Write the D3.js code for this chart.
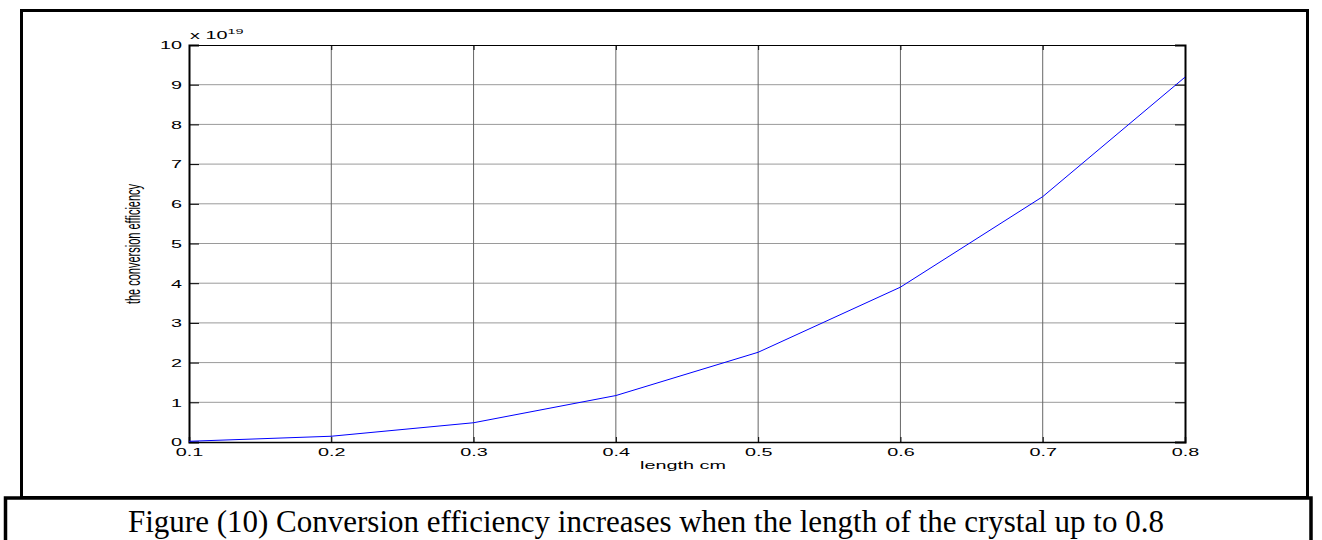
<!DOCTYPE html>
<html>
<head>
<meta charset="utf-8">
<script src="https://cdn.jsdelivr.net/npm/d3@7"></script>
<style>
  body { margin: 0; background: #fff; }
  svg { display: block; }
</style>
</head>
<body>
<svg id="chart"></svg>
<script>
// data (efficiency in units of 1e19)
const lengths = [0.1, 0.2, 0.3, 0.4, 0.5, 0.6, 0.7, 0.8];
const efficiency = [0.018, 0.145, 0.485, 1.17, 2.26, 3.9, 6.18, 9.19];
const xTicks = [0.1, 0.2, 0.3, 0.4, 0.5, 0.6, 0.7, 0.8];
const yTicks = [0, 1, 2, 3, 4, 5, 6, 7, 8, 9, 10];

const width = 1322;
const height = 540;
const stretch = 1.8; // text in the original is stretched sideways

const svg = d3.select('#chart')
    .attr('width', width)
    .attr('height', height);

// plot area
const plotLeft = 189, plotRight = 1185, plotTop = 45, plotBottom = 442;

const x = d3.scaleLinear().domain([0.1, 0.8]).range([plotLeft, plotRight]);
const y = d3.scaleLinear().domain([0, 10]).range([plotBottom, plotTop]);

// grid lines
svg.append("g")
    .selectAll("line")
    .data(yTicks.slice(1, -1))
    .enter().append("line")
    .attr("x1", plotLeft).attr("x2", plotRight)
    .attr("y1", d => y(d)).attr("y2", d => y(d))
    .attr("stroke", "#9a9a9a")
    .attr("stroke-width", 1);

svg.append("g")
    .selectAll("line")
    .data(xTicks.slice(1, -1))
    .enter().append("line")
    .attr("x1", d => x(d)).attr("x2", d => x(d))
    .attr("y1", plotTop).attr("y2", plotBottom)
    .attr("stroke", "#666")
    .attr("stroke-width", 1);

// axes, ticks point inward like matlab
const fmtX = d3.format(".1f");

const gLeft = svg.append("g")
    .attr("transform", "translate(" + plotLeft + ",0)")
    .call(d3.axisLeft(y).tickValues(yTicks).tickSize(-10).tickPadding(7).tickFormat(d3.format("d")));
const gRight = svg.append("g")
    .attr("transform", "translate(" + plotRight + ",0)")
    .call(d3.axisRight(y).tickValues(yTicks).tickSize(-10).tickFormat(""));
const gBottom = svg.append("g")
    .attr("transform", "translate(0," + plotBottom + ")")
    .call(d3.axisBottom(x).tickValues(xTicks).tickSize(-5).tickFormat(fmtX));
const gTop = svg.append("g")
    .attr("transform", "translate(0," + plotTop + ")")
    .call(d3.axisTop(x).tickValues(xTicks).tickSize(-5).tickFormat(""));

[gLeft, gRight, gBottom, gTop].forEach(g => {
    g.select(".domain").attr("stroke", "#000");
    g.selectAll(".tick line").attr("stroke", "#000");
});
gLeft.select(".domain").attr("stroke-width", 2);
gRight.select(".domain").attr("stroke-width", 2);
gBottom.select(".domain").attr("stroke-width", 1.5);

gLeft.selectAll(".tick text")
    .attr("x", null)
    .attr("transform", "translate(-7,0) scale(" + stretch + ",1)")
    .attr("dy", "0.35em")
    .style("font-family", "Liberation Sans, Arial, sans-serif")
    .style("font-size", "11px")
    .attr("fill", "#000");

gBottom.selectAll(".tick text")
    .attr("y", null)
    .attr("dy", null)
    .attr("transform", "translate(0,14) scale(" + stretch + ",1)")
    .style("font-family", "Liberation Sans, Arial, sans-serif")
    .style("font-size", "11px")
    .attr("fill", "#000");

// exponent label
const expo = svg.append("text")
    .attr("transform", "translate(190,38.5) scale(" + stretch + ",1)")
    .style("font-family", "Liberation Sans, Arial, sans-serif")
    .style("font-size", "11px");
expo.append("tspan").text("x 10");
expo.append("tspan").attr("dy", -5).style("font-size", "8px").text("19");

// data line
const line = d3.line()
    .x((d, i) => x(lengths[i]))
    .y(d => y(d));

svg.append("path")
    .datum(efficiency)
    .attr("d", line)
    .attr("fill", "none")
    .attr("stroke", "#0000ff")
    .attr("stroke-width", 1);

// axis titles
svg.append("text")
    .attr("transform", "translate(683,469) scale(" + stretch + ",1)")
    .attr("text-anchor", "middle")
    .style("font-family", "Liberation Sans, Arial, sans-serif")
    .style("font-size", "11px")
    .text("length cm");

svg.append("text")
    .attr("transform", "translate(140,244) scale(" + stretch + ",1) rotate(-90)")
    .attr("text-anchor", "middle")
    .style("font-family", "Liberation Sans, Arial, sans-serif")
    .style("font-size", "11px")
    .text("the conversion efficiency");

// frames
svg.append("rect")
    .attr("x", 21.5).attr("y", 10.5)
    .attr("width", 1286).attr("height", 487)
    .attr("fill", "none")
    .attr("stroke", "#000")
    .attr("stroke-width", 3);

svg.append("path")
    .attr("d", "M5.5,560 L5.5,498 L1311,498 L1311,560")
    .attr("fill", "none")
    .attr("stroke", "#000")
    .attr("stroke-width", 3.5);

// caption
svg.append("text")
    .attr("x", 128)
    .attr("y", 532)
    .style("font-family", "Liberation Serif, Times New Roman, serif")
    .style("font-size", "31px")
    .text("Figure (10) Conversion efficiency increases when the length of the crystal up to 0.8");
</script>
</body>
</html>
